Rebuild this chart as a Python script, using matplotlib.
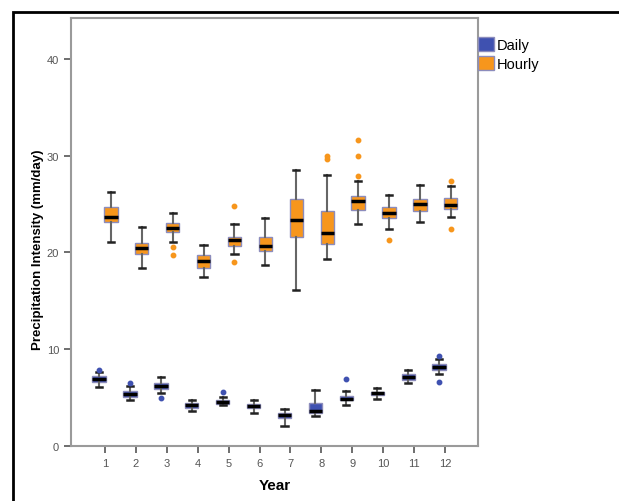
import numpy as np
import matplotlib
matplotlib.use("Agg")
import matplotlib.pyplot as plt
from matplotlib.patches import Patch, Rectangle

months = np.arange(1, 13)

# hourly box statistics (mm/day)
hourly_lo = [21.1, 18.4, 21.1, 17.5, 19.8, 18.7, 16.1, 19.3, 22.9, 22.4, 23.1, 23.6]
hourly_q1 = [23.1, 19.8, 22.1, 18.4, 20.7, 20.1, 21.6, 20.9, 24.4, 23.5, 24.3, 24.5]
hourly_med = [23.6, 20.4, 22.5, 19.1, 21.3, 20.7, 23.3, 22.0, 25.3, 24.1, 25.0, 24.9]
hourly_q3 = [24.7, 21.0, 23.0, 19.7, 21.6, 21.6, 25.5, 24.3, 25.8, 24.7, 25.5, 25.6]
hourly_hi = [26.2, 22.6, 24.1, 20.8, 22.9, 23.5, 28.5, 28.0, 27.4, 25.9, 27.0, 26.9]
hourly_fliers = [[], [], [20.5, 19.7], [], [24.8, 19.0], [], [], [30.0, 29.6],
                 [31.6, 29.9, 27.9], [21.3], [], [27.4, 22.4]]

# daily box statistics (mm/day)
daily_lo = [6.1, 4.7, 5.5, 3.6, 4.2, 3.4, 2.1, 3.1, 4.2, 4.9, 6.5, 7.4]
daily_q1 = [6.6, 5.1, 5.9, 3.95, 4.35, 3.9, 2.9, 3.4, 4.7, 5.3, 6.8, 7.9]
daily_med = [6.9, 5.4, 6.2, 4.2, 4.5, 4.1, 3.2, 3.6, 4.9, 5.5, 7.1, 8.2]
daily_q3 = [7.2, 5.7, 6.5, 4.4, 4.7, 4.3, 3.4, 4.4, 5.15, 5.6, 7.4, 8.45]
daily_hi = [7.6, 6.15, 7.1, 4.8, 5.1, 4.7, 3.8, 5.8, 5.7, 5.95, 7.9, 9.0]
daily_fliers = [[7.9], [6.5], [5.0], [], [5.6], [], [], [], [6.9], [], [], [9.3, 6.6]]

daily_color = "#3f51b0"
hourly_color = "#f7961c"
edge_color = "#8c8cbc"

plt.rcParams["font.family"] = ["Liberation Sans", "DejaVu Sans"]


def make_stats(lo, q1, med, q3, hi, fl):
    return [dict(whislo=a, q1=b, med=c, q3=d, whishi=e, fliers=f)
            for a, b, c, d, e, f in zip(lo, q1, med, q3, hi, fl)]


def draw(ax, stats, pos, color):
    ax.bxp(stats, positions=pos, widths=0.43, patch_artist=True,
           boxprops=dict(facecolor=color, edgecolor=edge_color, linewidth=1.0),
           medianprops=dict(color="black", linewidth=2.5),
           whiskerprops=dict(color="#666666", linewidth=1.5),
           capprops=dict(color="#222222", linewidth=1.8),
           capwidths=0.2,
           flierprops=dict(marker="o", markersize=3.2, markerfacecolor=color,
                           markeredgecolor=color))


fig = plt.figure(figsize=(6.19, 5.02), dpi=100)
ax = fig.add_axes([71 / 619, 1 - 447 / 502, (478 - 71) / 619, (447 - 19) / 502])

draw(ax, make_stats(daily_lo, daily_q1, daily_med, daily_q3, daily_hi, daily_fliers),
     months - 0.19, daily_color)
draw(ax, make_stats(hourly_lo, hourly_q1, hourly_med, hourly_q3, hourly_hi, hourly_fliers),
     months + 0.19, hourly_color)

ax.set_xlim(-0.1, 13.07)
ax.set_ylim(0, 44.2)
ax.set_xticks(months)
ax.set_xticklabels([str(m) for m in months])
ax.set_yticks([0, 10, 20, 30, 40])
ax.tick_params(axis="both", labelsize=8, colors="#555555", length=5, width=1.2)
for lab in ax.get_xticklabels() + ax.get_yticklabels():
    lab.set_family(["Liberation Sans Narrow", "Liberation Sans"])
for s in ax.spines.values():
    s.set_color("#9a9a9a")
    s.set_linewidth(1.5)

ax.set_xlabel("Year", fontsize=11, fontweight="bold", labelpad=7)
ax.set_ylabel("Precipitation Intensity (mm/day)", fontsize=9.5, fontweight="bold")
ax.yaxis.set_label_coords(-0.066, 0.46)

handles = [Patch(facecolor=daily_color, edgecolor=edge_color, label="Daily"),
           Patch(facecolor=hourly_color, edgecolor=edge_color, label="Hourly")]
fig.legend(handles=handles, loc="upper left", bbox_to_anchor=(478 / 619, 1 - 38 / 502),
           frameon=False, fontsize=10.5, handlelength=1.1, handleheight=1.1,
           handletextpad=0.2, borderaxespad=0, borderpad=0, labelspacing=0.3)

# outer frame of the original figure
fig.add_artist(Rectangle((13 / 619, -0.2), 2, 1.2 - 13 / 502, fill=False,
                         edgecolor="black", linewidth=2, transform=fig.transFigure))

fig.savefig("out.png", dpi=100)
